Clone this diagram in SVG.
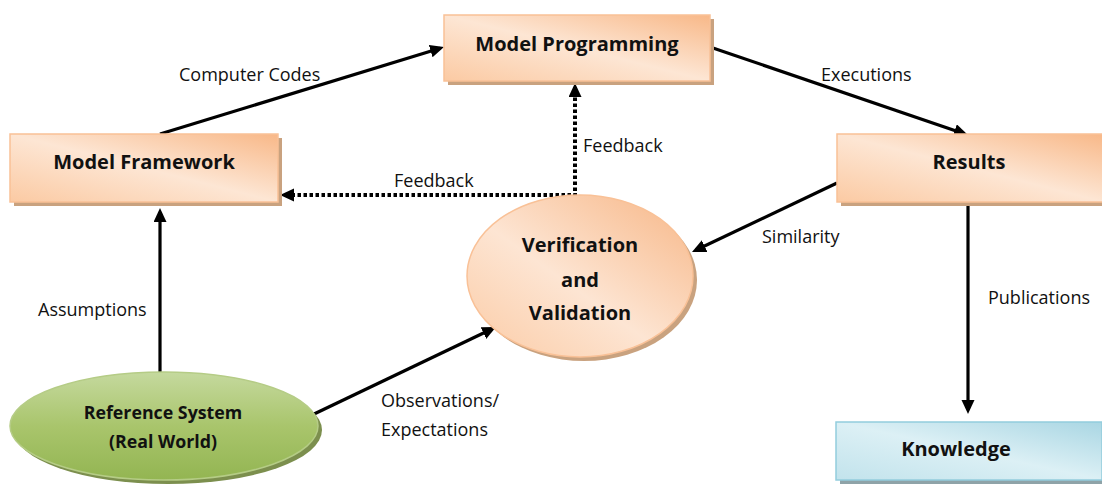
<svg xmlns="http://www.w3.org/2000/svg" width="1102" height="491" viewBox="0 0 1102 491">
<defs>
<linearGradient id="gOr" x1="1" y1="0" x2="0" y2="1">
<stop offset="0" stop-color="#f8b888"/>
<stop offset="0.5" stop-color="#fde6d4"/>
<stop offset="1" stop-color="#fbcaa3"/>
</linearGradient>
<linearGradient id="gOrE" x1="1" y1="0" x2="0" y2="1">
<stop offset="0" stop-color="#f7b686"/>
<stop offset="0.55" stop-color="#fde5d3"/>
<stop offset="1" stop-color="#fbcba5"/>
</linearGradient>
<linearGradient id="gGr" x1="0" y1="0" x2="0" y2="1">
<stop offset="0" stop-color="#c5d99e"/>
<stop offset="0.5" stop-color="#a9c56c"/>
<stop offset="1" stop-color="#93b552"/>
</linearGradient>
<linearGradient id="gBl" x1="1" y1="0" x2="0" y2="1">
<stop offset="0" stop-color="#a9d6e3"/>
<stop offset="0.5" stop-color="#dcf0f5"/>
<stop offset="1" stop-color="#c2e3ec"/>
</linearGradient>
<marker id="ah" markerUnits="userSpaceOnUse" markerWidth="16" markerHeight="14" refX="10" refY="6.5" orient="auto">
<path d="M0,0 L14,6.5 L0,13 z" fill="#000"/>
</marker>
<style>
.box{stroke:#f9c197;stroke-width:1.5}
.shO{fill:#c9a27f}
.shG{fill:#7c8f4e}
.shB{fill:#8fa3a8}
.nt{font-family:"Open Sans","Liberation Sans",sans-serif;font-weight:bold;font-size:20px;fill:#111;text-anchor:middle}
.lb{font-family:"Open Sans","Liberation Sans",sans-serif;font-size:18px;fill:#111}
.c{fill:none;stroke:#000;stroke-width:3.2}
.d{fill:none;stroke:#000;stroke-width:4;stroke-dasharray:3.5 2.5}
</style>
</defs>
<rect width="1102" height="491" fill="#fff"/>

<g id="connectors">
<line class="c" x1="160" y1="134" x2="440.2" y2="48.2" marker-end="url(#ah)"/>
<line class="c" x1="710" y1="47" x2="964.2" y2="133.7" marker-end="url(#ah)"/>
<line class="c" x1="837" y1="183" x2="695.6" y2="250.3" marker-end="url(#ah)"/>
<line class="c" x1="968" y1="203" x2="968" y2="410" marker-end="url(#ah)"/>
<line class="c" x1="160" y1="372" x2="160" y2="212" marker-end="url(#ah)"/>
<line class="c" x1="312" y1="415" x2="492.4" y2="328.7" marker-end="url(#ah)"/>
<line class="d" x1="575" y1="197" x2="575" y2="87" marker-end="url(#ah)"/>
<line class="d" x1="577" y1="195" x2="284" y2="195" marker-end="url(#ah)"/>
<text class="lb" x="179" y="81">Computer Codes</text>
<text class="lb" x="821" y="81">Executions</text>
<text class="lb" x="583" y="152">Feedback</text>
<text class="lb" x="394" y="187">Feedback</text>
<text class="lb" x="762" y="243">Similarity</text>
<text class="lb" x="38" y="316">Assumptions</text>
<text class="lb" x="988" y="304">Publications</text>
<text class="lb" x="381" y="407">Observations/</text>
<text class="lb" x="381" y="436">Expectations</text>
</g>

<g id="model-programming">
<rect class="shO" x="448" y="19" width="266" height="66"/>
<rect class="box" x="444" y="15" width="266" height="66" fill="url(#gOr)"/>
<text class="nt" x="577" y="51">Model Programming</text>
</g>

<g id="model-framework">
<rect class="shO" x="14" y="138" width="268" height="68"/>
<rect class="box" x="10" y="134" width="268" height="68" fill="url(#gOr)"/>
<text class="nt" x="144" y="169">Model Framework</text>
</g>

<g id="results">
<rect class="shO" x="841" y="138" width="265" height="68"/>
<rect class="box" x="837" y="134" width="267" height="68" fill="url(#gOr)"/>
<text class="nt" x="969" y="169">Results</text>
</g>

<g id="verification-validation">
<ellipse class="shO" cx="584" cy="280" rx="113" ry="81"/>
<ellipse class="box" cx="580" cy="276" rx="113" ry="81" fill="url(#gOrE)"/>
<text class="nt" x="580" y="252">Verification</text>
<text class="nt" x="580" y="287">and</text>
<text class="nt" x="580" y="320">Validation</text>
</g>

<g id="reference-system">
<ellipse class="shG" cx="168" cy="430" rx="154" ry="54"/>
<ellipse cx="164" cy="426" rx="154" ry="54" fill="url(#gGr)" stroke="#b5cc86" stroke-width="1.5"/>
<text class="nt" x="163" y="419" style="font-size:17.8px">Reference System</text>
<text class="nt" x="163" y="448" style="font-size:17.8px">(Real World)</text>
</g>

<g id="knowledge">
<rect class="shB" x="840" y="426" width="266" height="58"/>
<rect x="836" y="422" width="266" height="58" fill="url(#gBl)" stroke="#93cddd" stroke-width="1.5"/>
<text class="nt" x="956" y="456">Knowledge</text>
</g>
</svg>
